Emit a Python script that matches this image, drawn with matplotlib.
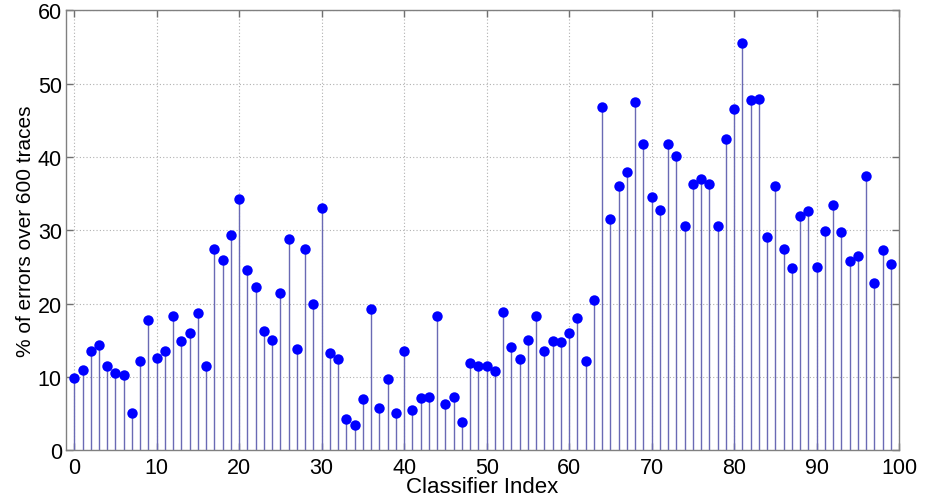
import matplotlib
matplotlib.use("Agg")
import matplotlib.pyplot as plt
import numpy as np

plt.rcParams['font.family'] = ['Liberation Sans', 'DejaVu Sans']

classifier_index = list(range(100))
error_pct = [
    9.8, 11.0, 13.5, 14.3, 11.5, 10.6, 10.3, 5.1, 12.2, 17.8,
    12.6, 13.5, 18.3, 14.9, 16.0, 18.7, 11.5, 27.5, 26.0, 29.3,
    34.2, 24.6, 22.3, 16.3, 15.0, 21.4, 28.8, 13.8, 27.5, 20.0,
    33.1, 13.2, 12.5, 4.3, 3.45, 7.0, 19.3, 5.7, 9.7, 5.1,
    13.5, 5.45, 7.1, 7.2, 18.3, 6.3, 7.3, 3.85, 11.95, 11.45,
    11.5, 10.8, 18.8, 14.1, 12.5, 15.0, 18.3, 13.5, 14.9, 14.7,
    16.0, 18.1, 12.2, 20.5, 46.8, 31.6, 36.0, 38.0, 47.5, 41.7,
    34.5, 32.8, 41.8, 40.15, 30.6, 36.3, 37.0, 36.3, 30.55, 42.5,
    46.5, 55.5, 47.8, 47.95, 29.1, 36.0, 27.5, 24.8, 32.0, 32.6,
    25.0, 29.9, 33.4, 29.7, 25.8, 26.5, 37.4, 22.8, 27.3, 25.4,
]
x_ticks = list(range(0, 101, 10))
y_ticks = list(range(0, 61, 10))

fig = plt.figure(figsize=(9.27, 5.02), dpi=100)
ax = fig.add_axes([0.0712, 0.101, 0.970 - 0.0712, 0.9775 - 0.101])

markerline, stemlines, baseline = ax.stem(classifier_index, error_pct, basefmt=' ')
stemlines.set_color('#6a6ab4')
stemlines.set_linewidth(1.0)
markerline.set_color('#0000ff')
markerline.set_markersize(7.5)
markerline.set_markeredgewidth(0)

ax.set_xlim(-1, 100)
ax.set_ylim(0, 60)
ax.set_xticks(x_ticks)
ax.set_yticks(y_ticks)
ax.grid(True, linestyle=(0, (1, 2)), color='#b0b0b0', linewidth=0.8)
ax.set_axisbelow(True)
ax.tick_params(direction='in', length=5, width=1, color='#707070', labelsize=15.5,
               top=True, right=True)
ax.tick_params(axis='x', pad=4.5)
ax.tick_params(axis='y', pad=3)
for s in ax.spines.values():
    s.set_color('#808080')
    s.set_linewidth(1.0)
ax.set_xlabel('Classifier Index', fontsize=16, labelpad=-1)
ax.set_ylabel('% of errors over 600 traces', fontsize=15, labelpad=2)

fig.savefig('out.png', dpi=100)
